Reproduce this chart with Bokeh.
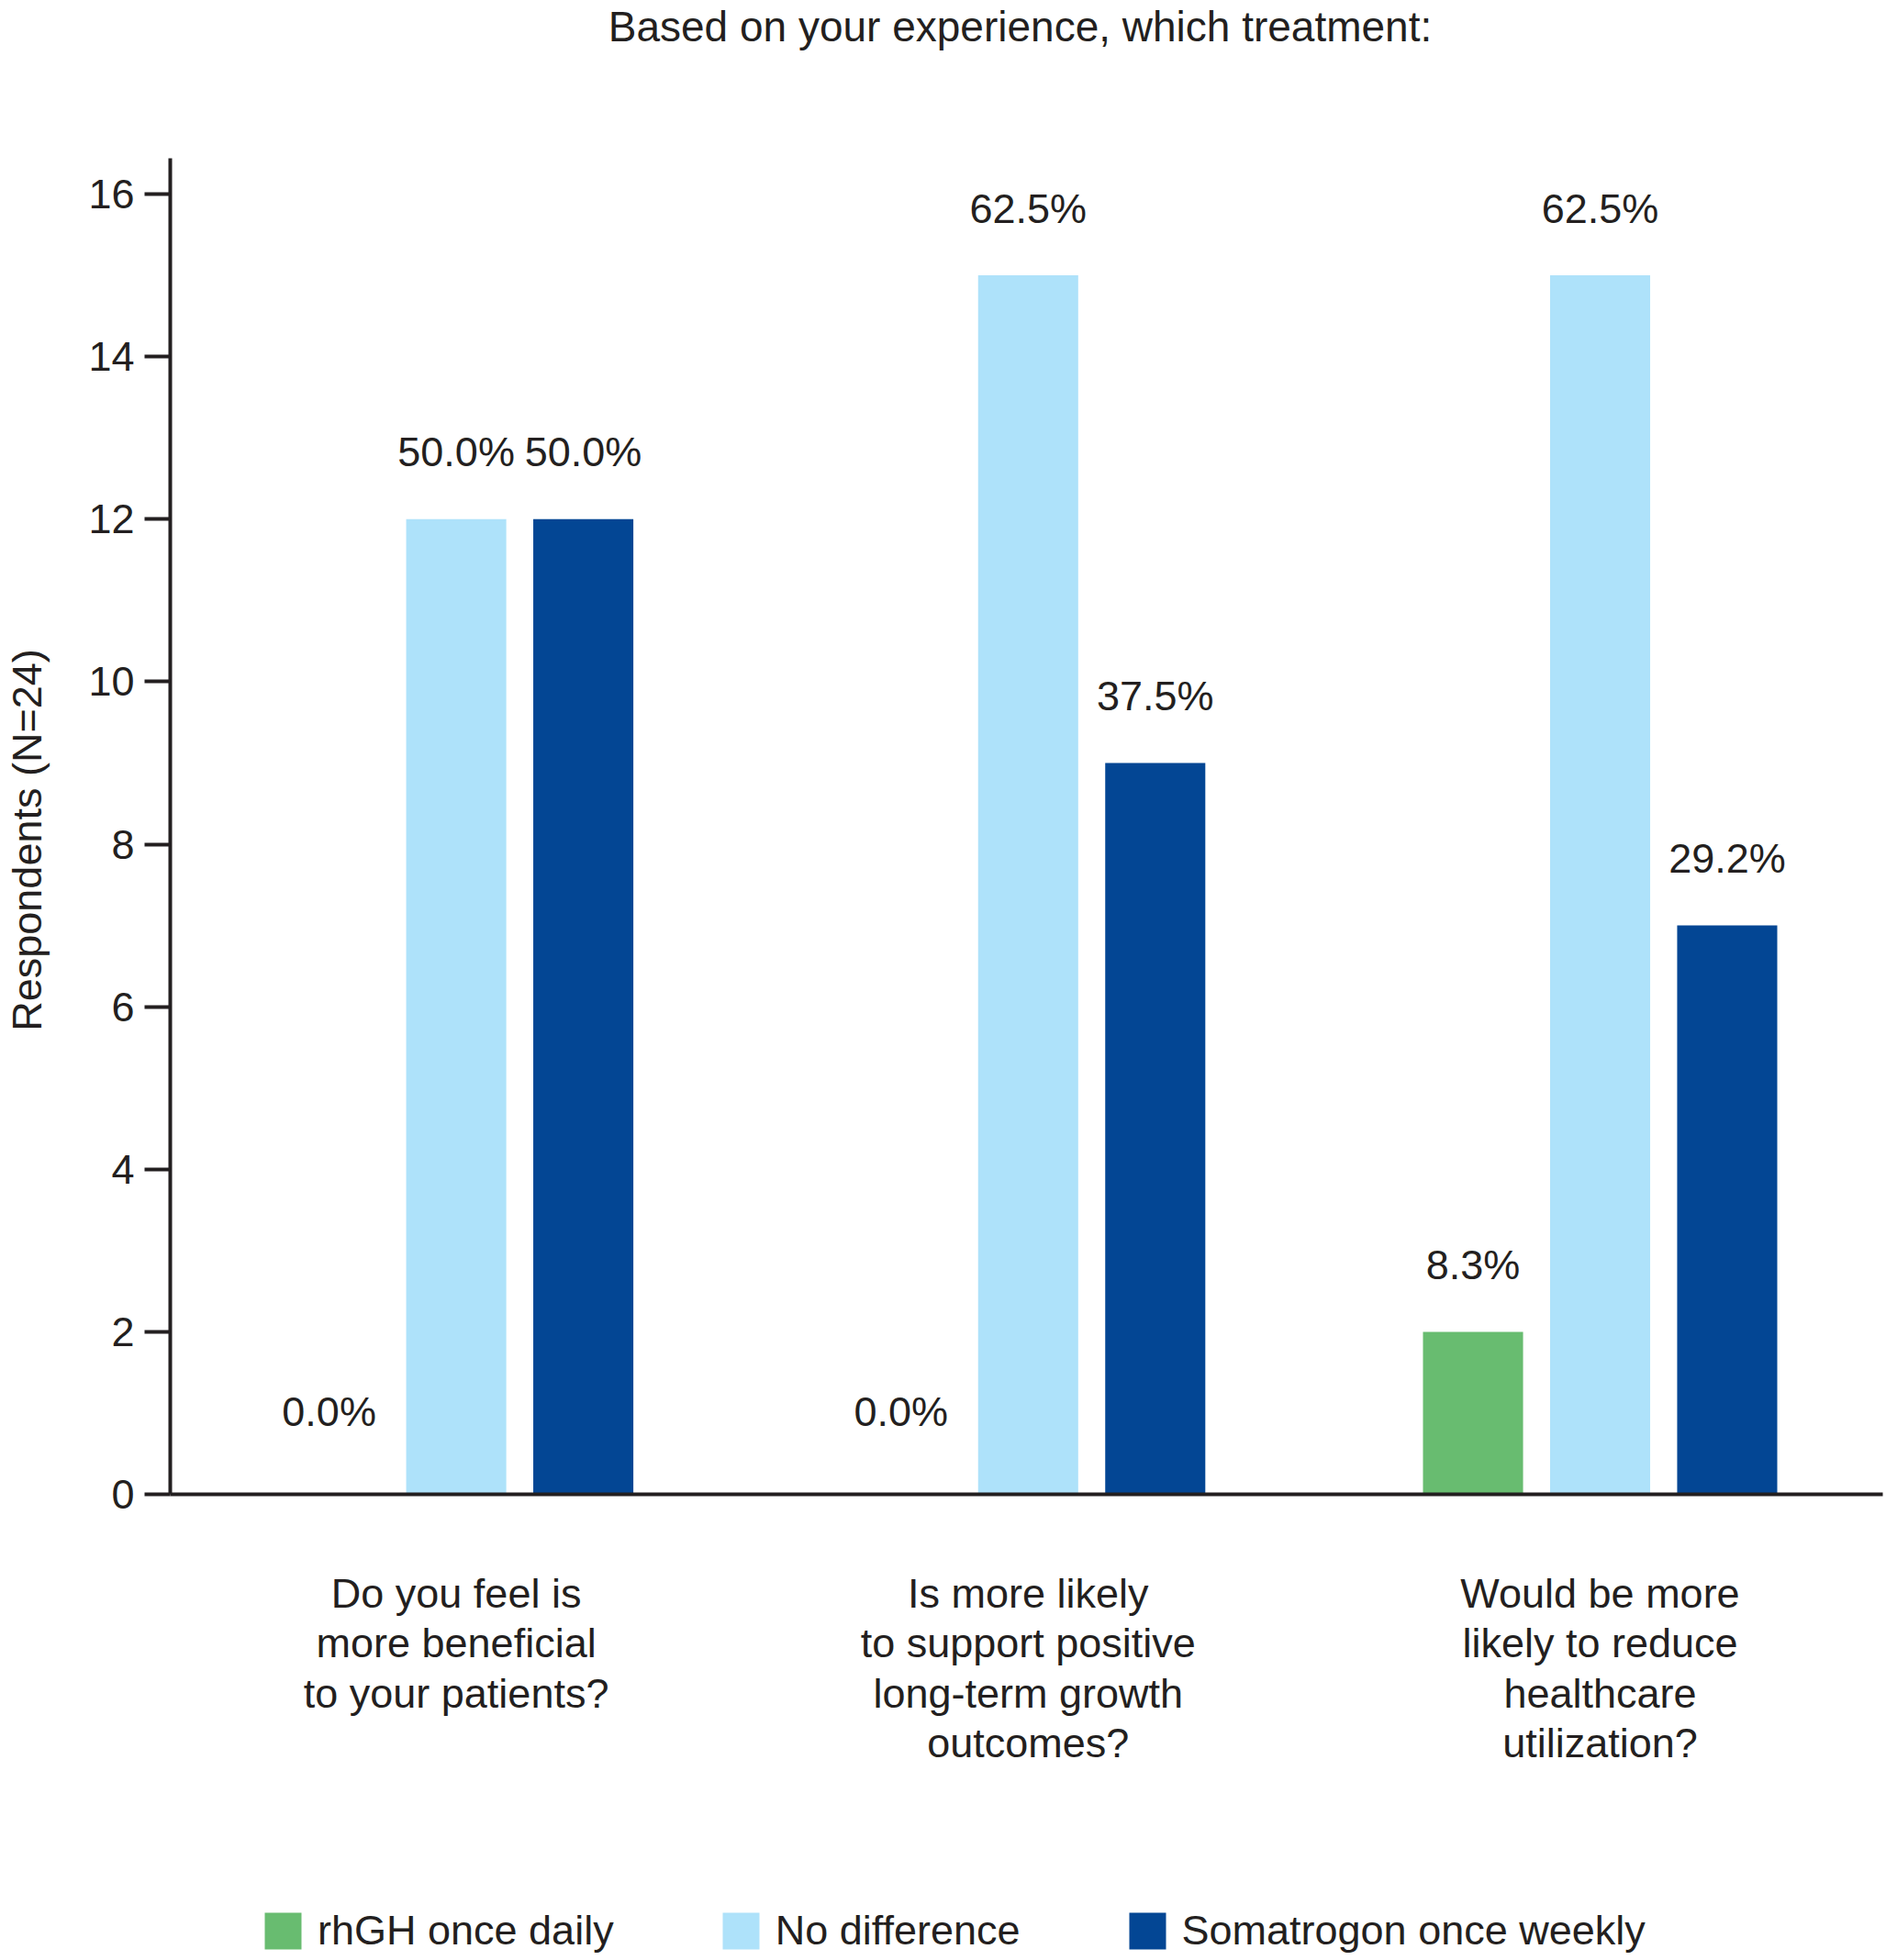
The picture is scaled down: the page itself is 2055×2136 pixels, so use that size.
import math
from bokeh.plotting import figure
from bokeh.models import ColumnDataSource, FixedTicker, Legend, LegendItem, Range1d, Label
from bokeh.core.properties import value
from bokeh.embed import file_html
from bokeh.resources import INLINE

# ---- data ----
title_text = "Based on your experience, which treatment:"
y_label_text = "Respondents (N=24)"
questions = [
    "Do you feel is\nmore beneficial\nto your patients?",
    "Is more likely\nto support positive\nlong-term growth\noutcomes?",
    "Would be more\nlikely to reduce\nhealthcare\nutilization?",
]
series_names = ["rhGH once daily", "No difference", "Somatrogon once weekly"]
rhgh_daily = [0, 0, 2]
no_difference = [12, 15, 15]
somatrogon_weekly = [12, 9, 7]
n_total = 24
y_ticks = [0, 2, 4, 6, 8, 10, 12, 14, 16]
y_axis_top = 16.44

# ---- layout / styles ----
W, H = 2055, 2136
AXIS_X = 185          # canvas x of the y axis
PX_PER_GROUP = 623.2
ZERO_PX = 1628        # canvas y of value 0
PX_PER_UNIT = 88.56
colors = ["#68bc70", "#aee2fa", "#034694"]
FONT = value("Liberation Sans")
TXT = "#231f20"
BAR_W = 0.175
OFFS = [-0.2222, 0.0, 0.2222]

x_range = Range1d(-AXIS_X / PX_PER_GROUP, (W - AXIS_X) / PX_PER_GROUP)
y_range = Range1d(-(H - ZERO_PX) / PX_PER_UNIT, ZERO_PX / PX_PER_UNIT)

p = figure(
    x_range=x_range, y_range=y_range,
    width=W, height=H,
    output_backend="svg", toolbar_location=None,
    min_border_left=0, min_border_right=0,
    min_border_top=0, min_border_bottom=0,
)
p.outline_line_color = None
p.xgrid.grid_line_color = None
p.ygrid.grid_line_color = None
p.background_fill_color = "white"
p.border_fill_color = "white"

group_pos = [i + 0.5 for i in range(len(questions))]

renderers = []
for name, vals, col, off in zip(series_names, [rhgh_daily, no_difference, somatrogon_weekly], colors, OFFS):
    src = ColumnDataSource(dict(
        x=[g + off for g in group_pos],
        v=vals,
        lab=["%.1f%%" % (v / n_total * 100) for v in vals],
        yoff=[-90 if v == 0 else -73 for v in vals],
    ))
    r = p.vbar(x="x", top="v", bottom=0, width=BAR_W,
               source=src, fill_color=col, line_color=None)
    renderers.append(r)
    p.text(x="x", y="v", text="lab", source=src,
           y_offset="yoff", text_align="center", text_baseline="middle",
           text_font=FONT, text_font_size="45px", text_color=TXT)

# title
p.add_layout(Label(x=(1111 - AXIS_X) / PX_PER_GROUP, y=(ZERO_PX - 28) / PX_PER_UNIT,
                   text=title_text, text_align="center", text_baseline="middle",
                   text_font="Liberation Sans", text_font_size="46px", text_color=TXT))

# y axis title
p.add_layout(Label(x=(29 - AXIS_X) / PX_PER_GROUP, y=(ZERO_PX - 915) / PX_PER_UNIT,
                   text=y_label_text, angle=math.pi / 2, text_align="center",
                   text_baseline="middle", text_font="Liberation Sans",
                   text_font_size="45px", text_color=TXT))

# y axis at x = 0
p.yaxis.fixed_location = 0
p.yaxis.bounds = (0, y_axis_top)
p.yaxis.ticker = FixedTicker(ticks=y_ticks)
p.yaxis.minor_tick_line_color = None
p.yaxis.major_tick_out = 28
p.yaxis.major_tick_in = 0
p.yaxis.major_tick_line_width = 4
p.yaxis.major_tick_line_color = TXT
p.yaxis.axis_line_width = 4
p.yaxis.axis_line_color = TXT
p.yaxis.major_label_text_font = "Liberation Sans"
p.yaxis.major_label_text_font_size = "45px"
p.yaxis.major_label_text_color = TXT
p.yaxis.major_label_standoff = 11

# x axis at y = 0
p.xaxis.fixed_location = 0
p.xaxis.bounds = (0, (2051 - AXIS_X) / PX_PER_GROUP)
p.xaxis.ticker = FixedTicker(ticks=group_pos)
p.xaxis.major_label_overrides = {g: q for g, q in zip(group_pos, questions)}
p.xaxis.major_tick_line_color = None
p.xaxis.minor_tick_line_color = None
p.xaxis.major_tick_out = 0
p.xaxis.major_tick_in = 0
p.xaxis.axis_line_width = 4
p.xaxis.axis_line_color = TXT
p.xaxis.major_label_text_font = "Liberation Sans"
p.xaxis.major_label_text_font_size = "45px"
p.xaxis.major_label_text_color = TXT
p.xaxis.major_label_text_line_height = 1.07
p.xaxis.major_label_standoff = 82
p.xaxis.major_label_orientation = "horizontal"

legend = Legend(
    items=[LegendItem(label=n, renderers=[r]) for n, r in zip(series_names, renderers)],
    orientation="horizontal",
    location=(283, 6),
    glyph_width=50, glyph_height=50,
    label_standoff=13, spacing=113,
    padding=0, margin=0,
    border_line_color=None, background_fill_alpha=0,
    label_text_font="Liberation Sans", label_text_font_size="45px",
    label_text_color=TXT, label_height=40,
)
p.add_layout(legend)

open("out.html", "w").write(file_html(p, INLINE))
